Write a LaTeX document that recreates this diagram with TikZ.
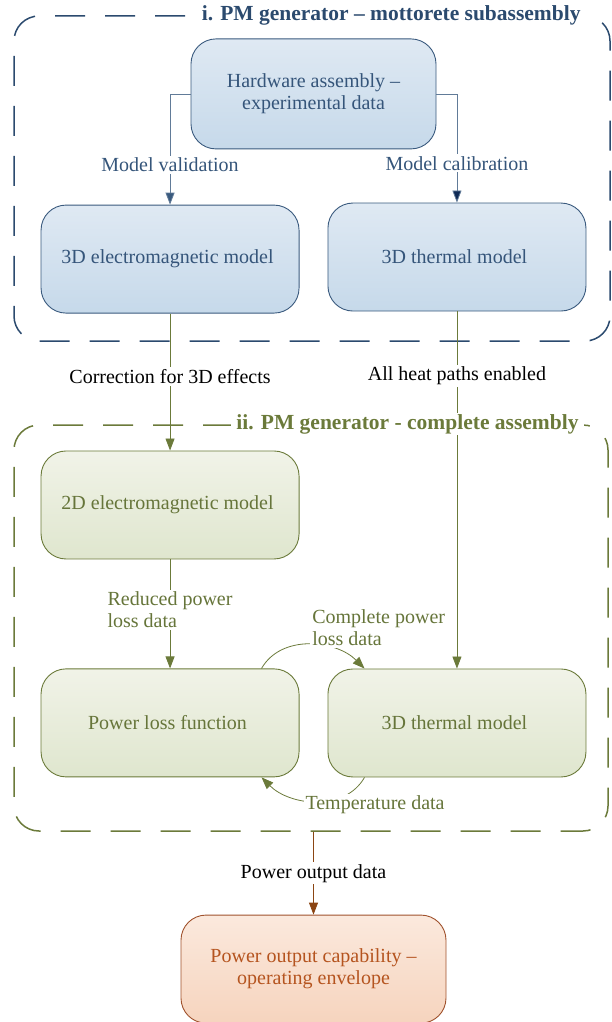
\documentclass[tikz,border=0pt]{standalone}
\usepackage{fontspec}
\setmainfont{Liberation Serif}
\usetikzlibrary{matrix,arrows.meta,positioning,fit}
\definecolor{bluetop}{HTML}{DFE9F3}
\definecolor{bluebot}{HTML}{C6D9EA}
\definecolor{blueedge}{HTML}{3A5A7E}
\definecolor{bluetext}{HTML}{35557A}
\definecolor{bluegrp}{HTML}{2B4A6E}
\definecolor{navy}{HTML}{0F2A55}
\definecolor{greentop}{HTML}{F1F3E8}
\definecolor{greenbot}{HTML}{DFE6CE}
\definecolor{olive}{HTML}{6B7A3A}
\definecolor{olivetext}{HTML}{66753A}
\definecolor{orangetop}{HTML}{FBE9DD}
\definecolor{orangebot}{HTML}{F6D4BE}
\definecolor{brownedge}{HTML}{A0522D}
\definecolor{browntext}{HTML}{B5541F}
\definecolor{brownline}{HTML}{8B4513}

\begin{document}
\begin{tikzpicture}[x=1pt,y=1pt,
  font=\fontsize{20}{22}\selectfont,
  >={Triangle[length=12pt,width=9pt]},
  box/.style={rounded corners=25pt,minimum width=258pt,minimum height=108pt,align=center,line width=0.9pt},
  bluebox/.style={box,draw=blueedge,top color=bluetop,bottom color=bluebot,text=bluetext},
  greenbox/.style={box,draw=olive,top color=greentop,bottom color=greenbot,text=olivetext},
  orangebox/.style={box,draw=brownedge,top color=orangetop,bottom color=orangebot,text=browntext},
  grp/.style={draw,dash pattern=on 30pt off 20pt,line width=1.5pt,rounded corners=25pt,inner sep=0pt},
  grptitle/.style={fill=white,inner xsep=5pt,inner ysep=1pt,font=\fontsize{21.5}{24}\selectfont\bfseries},
  description/.style={fill=white,inner sep=2pt},
  conn/.style={line width=0.8pt}]

\useasboundingbox (0,0) rectangle (611,-1022);

\matrix (m) at (313.5,-490) [matrix of nodes, inner sep=0pt, column sep=28pt, row sep=0pt,
  row 1/.style={nodes=bluebox}, row 2/.style={nodes=greenbox}, row 3/.style={nodes=greenbox}]
{ 3D electromagnetic model & 3D thermal model \\[137pt]
  2D electromagnetic model & \\[109pt]
  Power loss function & 3D thermal model \\ };

\node[bluebox, minimum width=245pt, minimum height=110pt, above=53pt of m] (hw) {Hardware assembly \textendash\\experimental data};
\node[orangebox, minimum width=265pt, below=137pt of m] (pout) {Power output capability \textendash\\operating envelope};

\node[grp, draw=bluegrp, fit={(14,-16) (610,-341)}] (grpA) {};
\node[grp, draw=olive, fit={(14,-425) (608,-831)}] (grpB) {};

\draw[conn,draw=blueedge!80,->,>={Triangle[length=12pt,width=9pt,fill=blueedge]}] (hw.west) -| node[description,pos=0.82,text=bluetext] {Model validation} (m-1-1.north);
\draw[conn,draw=blueedge!80,->,>={Triangle[length=12pt,width=9pt,fill=navy]}] (hw.east) -| node[description,pos=0.82,text=bluetext] {Model calibration} (m-1-2.north);

\path[conn,olive,->] (m-1-1) edge node[description,pos=0.46,text=black] {Correction for 3D effects} (m-2-1);
\path[conn,olive,->] (m-1-2) edge node[description,pos=0.18,text=black] {All heat paths enabled} (m-3-2);
\path[conn,olive,->] (m-2-1) edge node[description,pos=0.46,align=left,text=olivetext] {Reduced power\\loss data} (m-3-1);

\draw[conn,olive,->] ([xshift=-38pt]m-3-1.north east) to[out=60,in=135]
  node[description,pos=0.5,anchor=west,yshift=17pt,align=left,text=olivetext] {Complete power\\loss data} ([xshift=37pt]m-3-2.north west);
\draw[conn,olive,->] ([xshift=37pt]m-3-2.south west) to[out=-120,in=-45]
  node[description,pos=0.5,anchor=west,xshift=-13pt,yshift=-4pt,text=olivetext] {Temperature data} ([xshift=-38pt]m-3-1.south east);

\draw[conn,brownline,->] (grpB.south -| pout.north) -- node[description,text=black] {Power output data} (pout.north);

\node[grptitle, text=bluegrp, anchor=east] at ([xshift=-25pt]grpA.north east) {i. PM generator \textendash\ mottorete subassembly};
\node[grptitle, text=olive, anchor=east] at ([xshift=-25pt]grpB.north east) {ii. PM generator - complete assembly};
\end{tikzpicture}
\end{document}
